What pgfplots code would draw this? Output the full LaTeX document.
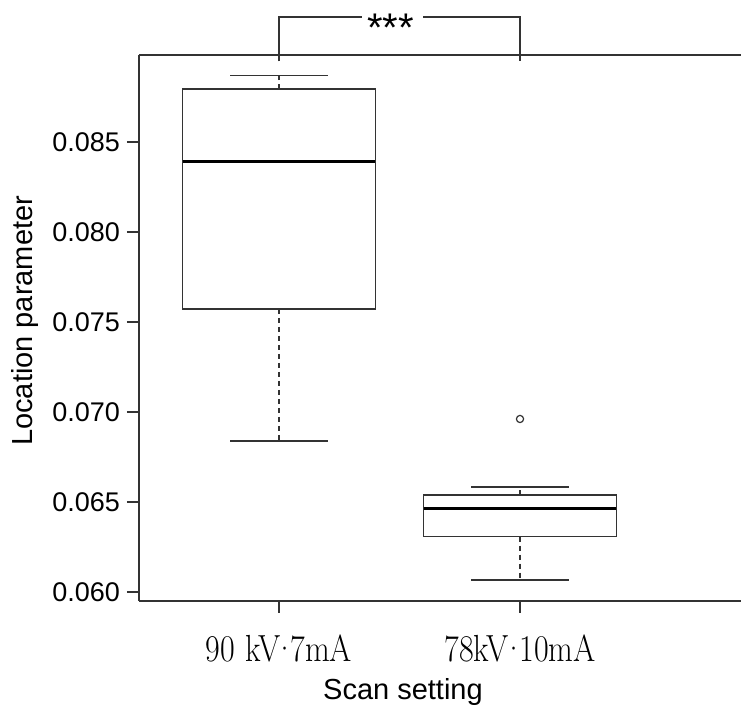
\documentclass[border=0pt]{standalone}
\usepackage{fontspec}
\usepackage{graphicx}
\usepackage{pgfplots}
\pgfplotsset{compat=1.18}
\newfontfamily\arial{Liberation Sans}
\definecolor{ink}{gray}{0.2}
% x tick labels look a little taller than Latin Modern in the original
\newcommand\xl[1]{\scalebox{1}[1.18]{#1}}

\begin{document}
\begin{tikzpicture}
\begin{axis}[
  scale only axis, width=301pt, height=273pt,
  at={(0,0)}, anchor=south west,
  xmin=0.419, xmax=2.917, ymin=0.0595, ymax=0.08983,
  axis lines*=left, axis line style={-, draw=ink, line width=0.6pt},
  clip=false,
  tick align=outside, major tick length=6pt,
  tick style={draw=ink, line width=0.6pt},
  xtick={1,2},
  xticklabels={\xl{90 kV\kern-.2em·\kern-.2em7mA}, \xl{78kV\kern-.2em·\kern-.2em10mA}},
  xticklabel style={font=\fontsize{16}{18}\selectfont, anchor=center, yshift=-17.5pt},
  ytick={0.060,0.065,0.070,0.075,0.080,0.085},
  yticklabel style={font=\arial\fontsize{13.5}{15}\selectfont},
  /pgf/number format/.cd, fixed, fixed zerofill, precision=3, assume math mode=true,
  /pgfplots/.cd,
  scaled y ticks=false,
  xlabel={Scan setting}, ylabel={Location parameter},
  every axis x label/.style={at={(axis description cs:0.4385,-0.167)}, anchor=center, font=\arial\fontsize{14.5}{16}\selectfont},
  every axis y label/.style={at={(axis description cs:-0.19,0.513)}, rotate=90, anchor=center, font=\arial\fontsize{14.5}{16}\selectfont},
  box/.style={ink, line width=0.6pt, line cap=rect},
  whisk/.style={ink, line width=0.6pt, dash pattern=on 2.5pt off 2pt},
  med/.style={black, line width=1.5pt},
]

% 90 kV-7mA: box, median, whiskers, caps
\addplot[box] coordinates {(0.6,0.07572) (1.4,0.07572) (1.4,0.08794) (0.6,0.08794) (0.6,0.07572)};
\addplot[med] coordinates {(0.6,0.08389) (1.4,0.08389)};
\addplot[whisk] coordinates {(1,0.07572) (1,0.06839)};
\addplot[whisk] coordinates {(1,0.08794) (1,0.08867)};
\addplot[box] coordinates {(0.8,0.06839) (1.2,0.06839)};
\addplot[box] coordinates {(0.8,0.08867) (1.2,0.08867)};

% 78kV-10mA
\addplot[box] coordinates {(1.6,0.06307) (2.4,0.06307) (2.4,0.06539) (1.6,0.06539) (1.6,0.06307)};
\addplot[med] coordinates {(1.6,0.06465) (2.4,0.06465)};
\addplot[whisk] coordinates {(2,0.06307) (2,0.06067)};
\addplot[whisk] coordinates {(2,0.06539) (2,0.06583)};
\addplot[box] coordinates {(1.8,0.06067) (2.2,0.06067)};
\addplot[box] coordinates {(1.8,0.06583) (2.2,0.06583)};
% outlier
\addplot[only marks, mark=o, mark size=1.8pt, mark options={ink, line width=0.6pt}]
  coordinates {(2,0.06961)};

% top frame line (right side is cut off in the original)
\draw[ink, line width=0.6pt] (rel axis cs:0,1) -- (rel axis cs:1,1);

% significance bracket
\draw[ink, line width=0.6pt] (axis cs:1,0.08947) |- (axis cs:1.344,0.091945);
\draw[ink, line width=0.6pt] (axis cs:1.598,0.091945) -| (axis cs:2,0.08947);
\node[font=\arial\fontsize{20}{22}\selectfont, anchor=base, yshift=-12.4pt, inner sep=0pt]
  at (axis cs:1.4627,0.091945) {***};
\end{axis}
\pgfresetboundingbox
\useasboundingbox (-69.5pt,-54.5pt) rectangle (301pt,300.5pt);
\end{tikzpicture}
\end{document}
